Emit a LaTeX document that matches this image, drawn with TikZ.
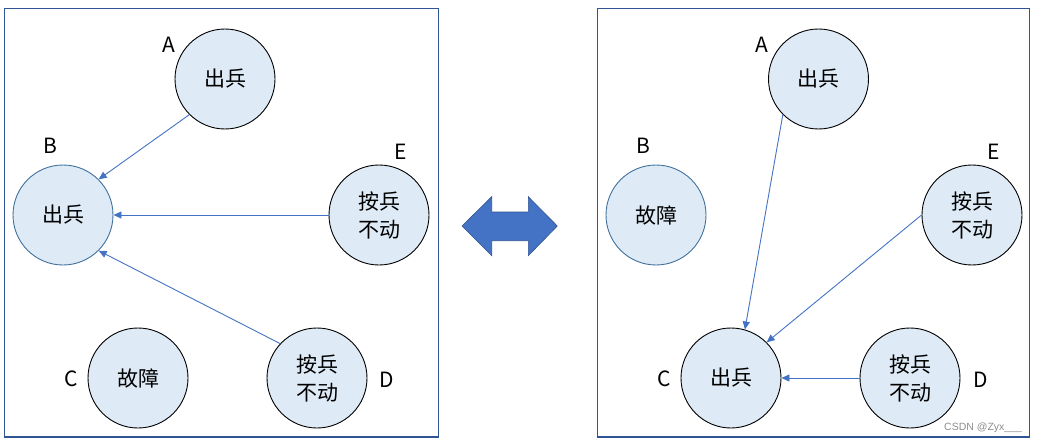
\documentclass[tikz,border=0pt]{standalone}
\usepackage{fontspec}
\setmainfont{Noto Sans CJK SC}
\newfontfamily\wmfont{Liberation Sans}
\usetikzlibrary{arrows.meta}
\definecolor{framec}{HTML}{2F5597}
\definecolor{fillc}{HTML}{DEEBF7}
\definecolor{linec}{HTML}{4472C4}
\definecolor{bedge}{HTML}{41719C}
\definecolor{darrowedge}{HTML}{2F528F}
\tikzset{
  state/.style={circle, draw=black, fill=fillc, line width=0.9pt, minimum size=100pt, inner sep=0pt, font=\fontsize{21}{28}\selectfont, align=center},
  bstate/.style={state, draw=bedge},
  lab/.style={font=\fontsize{21}{24}\selectfont, inner sep=0pt},
  frame/.style={draw=framec, line width=1.1pt},
  conn/.style={draw=linec, line width=0.9pt, -{Triangle[length=8pt,width=7pt]}},
}
\begin{document}
\begin{tikzpicture}[x=1pt,y=-1pt]
\useasboundingbox (0,0) rectangle (1037,444);
% frames
\draw[frame] (4.5,8.5) rectangle (438.5,437);
\draw[frame] (597.5,8.5) rectangle (1029.5,437);
% left panel
\node[state]  (LA) at (225,79) {出兵};
\node[bstate] (LB) at (63,215) {出兵};
\node[state]  (LE) at (379,215) {按兵\\不动};
\node[state]  (LC) at (138,378) {故障};
\node[state]  (LD) at (317,378) {按兵\\不动};
\node[lab] (lA) at (169,45) {A};
\node[lab] (lB) at (50,146) {B};
\node[lab] (lE) at (401,152) {E};
\node[lab] (lC) at (71,379) {C};
\node[lab] (lD) at (387,380) {D};
\draw[conn] (LA.225) -- (LB.45);
\draw[conn] (LE.180) -- (LB.0);
\draw[conn] (LD.137) -- (LB.-45);
% right panel
\node[state]  (RA) at (818.5,79) {出兵};
\node[bstate] (RB) at (656,215) {故障};
\node[state]  (RE) at (972,215) {按兵\\不动};
\node[state]  (RC) at (731,378) {出兵};
\node[state]  (RD) at (910,378) {按兵\\不动};
\node[lab] (rA) at (762,45) {A};
\node[lab] (rB) at (643,146) {B};
\node[lab] (rE) at (994,152) {E};
\node[lab] (rC) at (664,379) {C};
\node[lab] (rD) at (981,380) {D};
\draw[conn] (RA.225) -- (RC.74);
\draw[conn] (RE.180) -- (RC.45);
\draw[conn] (RD.180) -- (RC.0);
% double arrow
\draw[darrowedge, fill=linec, line width=0.6pt]
  (462,226) -- (491.7,196.7) -- (491.7,212) -- (528.3,212) -- (528.3,196.7)
  -- (557.3,226) -- (528.3,255.7) -- (528.3,240.7) -- (491.7,240.7)
  -- (491.7,255.7) -- cycle;
% watermark
\node[font=\wmfont\fontsize{10.5}{12}\selectfont, text=black!45, anchor=west, inner sep=0pt] (wm) at (944,427.5) {CSDN @Zyx\_\_\_};
\end{tikzpicture}
\end{document}
